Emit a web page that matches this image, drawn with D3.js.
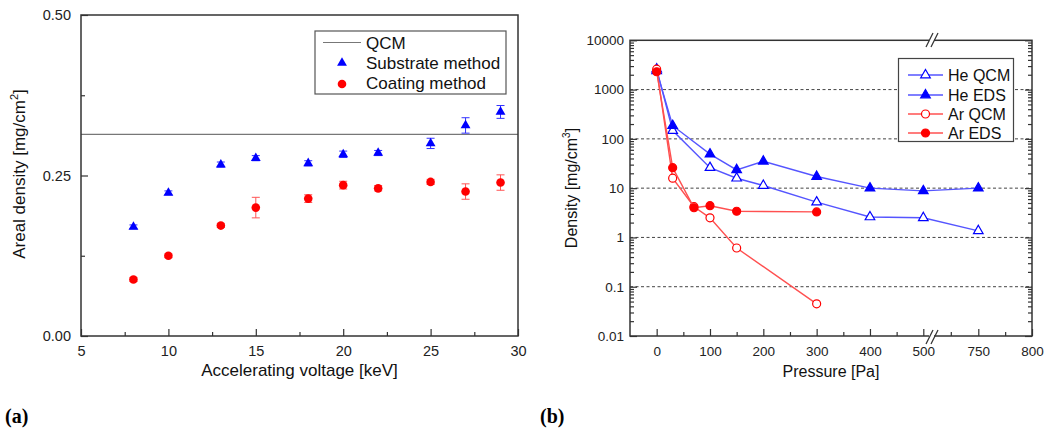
<!DOCTYPE html>
<html>
<head>
<meta charset="utf-8">
<script src="https://cdn.jsdelivr.net/npm/d3@7"></script>
<style>
  body { margin: 0; background: #fff; }
  svg { display: block; font-family: "Liberation Sans", Arial, sans-serif; }
</style>
</head>
<body>
<svg id="chart"></svg>
<script>
// ---- panel (a) data: areal density vs accelerating voltage
var voltage = [8, 10, 13, 15, 18, 20, 22, 25, 27, 29];
var substrate = [0.170, 0.223, 0.267, 0.277, 0.269, 0.283, 0.285, 0.300, 0.328, 0.349];
var substrateErr = [0.003, 0.003, 0.004, 0.004, 0.004, 0.005, 0.004, 0.008, 0.012, 0.010];
var coating = [0.088, 0.125, 0.172, 0.200, 0.214, 0.235, 0.230, 0.240, 0.225, 0.239];
var coatingErr = [0.003, 0.003, 0.003, 0.016, 0.006, 0.006, 0.004, 0.004, 0.012, 0.012];
var qcmLevel = 0.314;
var xTicksA = [5, 10, 15, 20, 25, 30];
var yTicksA = [0, 0.25, 0.5];

// ---- panel (b) data: density vs pressure
var heQcmP = [0, 30, 100, 150, 200, 300, 400, 500, 750];
var heQcm = [2600, 147, 26, 15.9, 11.3, 5.2, 2.6, 2.5, 1.36];
var heEdsP = [0, 30, 100, 150, 200, 300, 400, 500, 750];
var heEds = [2400, 185, 49, 23.5, 35, 17.2, 10, 8.8, 10];
var arQcmP = [0, 30, 70, 100, 150, 300];
var arQcm = [2600, 15.9, 4.2, 2.5, 0.61, 0.045];
var arEdsP = [0, 30, 70, 100, 150, 300];
var arEds = [2300, 26, 4.0, 4.4, 3.4, 3.3];
var xTicksB = [0, 100, 200, 300, 400, 500, 750, 800];
var xMinorB = [50, 150, 250, 350, 450, 625, 775];
var yTicksB = [0.01, 0.1, 1, 10, 100, 1000, 10000];
var gridB = [0.1, 1, 10, 100, 1000];

var W = 1045, H = 432;
var svg = d3.select("#chart").attr("width", W).attr("height", H);
svg.append("rect").attr("width", W).attr("height", H).attr("fill", "#fff");

var frameCol = "#333";
var blue = "#0000ff", red = "#ff0000";

function styleAxis(g, size) {
  g.select(".domain").remove();
  g.selectAll(".tick line").attr("stroke", frameCol).attr("stroke-width", 1.2);
  g.selectAll(".tick text").attr("fill", "#222").attr("font-size", size)
    .attr("font-family", "Liberation Sans, Arial, sans-serif");
}

// ================= panel (a) =================
var xa = d3.scaleLinear().domain([5, 30]).range([81, 518]);
var ya = d3.scaleLinear().domain([0, 0.5]).range([336, 15]);

// qcm reference line
svg.append("line")
  .attr("x1", xa(5)).attr("x2", xa(30))
  .attr("y1", ya(qcmLevel)).attr("y2", ya(qcmLevel))
  .attr("stroke", "#777").attr("stroke-width", 1.2);

var axA = svg.append("g").attr("transform", "translate(0,336)")
  .call(d3.axisBottom(xa).tickValues(xTicksA).tickSize(-7).tickPadding(10).tickFormat(d3.format("d")));
styleAxis(axA, "14.5px");
var axAm = svg.append("g").attr("transform", "translate(0,336)")
  .call(d3.axisBottom(xa).tickValues([7.5, 12.5, 17.5, 22.5, 27.5]).tickSize(-4).tickFormat(""));
styleAxis(axAm, "1px");

var ayA = svg.append("g").attr("transform", "translate(81,0)")
  .call(d3.axisLeft(ya).tickValues(yTicksA).tickSize(-7).tickPadding(10).tickFormat(d3.format(".2f")));
styleAxis(ayA, "14.5px");
var ayAm = svg.append("g").attr("transform", "translate(81,0)")
  .call(d3.axisLeft(ya).tickValues([0.125, 0.375]).tickSize(-4).tickFormat(""));
styleAxis(ayAm, "1px");

svg.append("rect").attr("x", 81).attr("y", 15).attr("width", 437).attr("height", 321)
  .attr("fill", "none").attr("stroke", frameCol).attr("stroke-width", 1.5);

// error bars
function errBars(xs, ys, es, color) {
  var g = svg.append("g").attr("stroke", color).attr("stroke-width", 1);
  xs.forEach(function(v, i) {
    var x = xa(v), y1 = ya(ys[i] - es[i]), y2 = ya(ys[i] + es[i]);
    g.append("line").attr("x1", x).attr("x2", x).attr("y1", y1).attr("y2", y2);
    g.append("line").attr("x1", x - 4).attr("x2", x + 4).attr("y1", y1).attr("y2", y1);
    g.append("line").attr("x1", x - 4).attr("x2", x + 4).attr("y1", y2).attr("y2", y2);
  });
}
errBars(voltage, substrate, substrateErr, "#3333ff");
errBars(voltage, coating, coatingErr, "#ff5555");

var tri = d3.symbol().type(d3.symbolTriangle).size(42);
svg.append("g").selectAll("path").data(voltage).enter().append("path")
  .attr("d", tri)
  .attr("transform", function(d, i) { return "translate(" + xa(d) + "," + ya(substrate[i]) + ")"; })
  .attr("fill", blue);
svg.append("g").selectAll("circle").data(voltage).enter().append("circle")
  .attr("cx", function(d) { return xa(d); })
  .attr("cy", function(d, i) { return ya(coating[i]); })
  .attr("r", 4.3).attr("fill", red);

// legend (a)
var lgA = svg.append("g");
lgA.append("rect").attr("x", 315).attr("y", 31).attr("width", 191).attr("height", 63)
  .attr("fill", "#fff").attr("stroke", "#555").attr("stroke-width", 1.2);
lgA.append("line").attr("x1", 323).attr("x2", 361).attr("y1", 42.5).attr("y2", 42.5)
  .attr("stroke", "#777").attr("stroke-width", 1.2);
lgA.append("path").attr("d", tri).attr("transform", "translate(342,63)").attr("fill", blue);
lgA.append("circle").attr("cx", 342).attr("cy", 84).attr("r", 4.3).attr("fill", red);
[["QCM", 48.5], ["Substrate method", 68.5], ["Coating method", 89]].forEach(function(t) {
  lgA.append("text").attr("x", 366).attr("y", t[1]).attr("font-size", "17px")
    .attr("fill", "#111").text(t[0]);
});

svg.append("text").attr("x", 299.5).attr("y", 376).attr("text-anchor", "middle")
  .attr("font-size", "17px").attr("fill", "#111").text("Accelerating voltage [keV]");
var ytA = svg.append("text").attr("transform", "translate(25,174) rotate(-90)")
  .attr("text-anchor", "middle").attr("font-size", "17px").attr("fill", "#111");
ytA.append("tspan").text("Areal density [mg/cm");
ytA.append("tspan").attr("font-size", "11px").attr("dy", "-7").text("2");
ytA.append("tspan").attr("dy", "7").text("]");

svg.append("text").attr("x", 5).attr("y", 423)
  .attr("font-family", "Liberation Serif, Times New Roman, serif")
  .attr("font-weight", "bold").attr("font-size", "20px").attr("fill", "#000").text("(a)");

// ================= panel (b) =================
var xb = d3.scaleLinear().domain([-50, 500, 750, 800]).range([630, 923.3, 978.3, 1032]);
var yb = d3.scaleLog().domain([0.01, 10000]).range([336, 40.3]);

// dashed grid
svg.append("g").selectAll("line").data(gridB).enter().append("line")
  .attr("x1", 630).attr("x2", 1032)
  .attr("y1", function(d) { return yb(d); }).attr("y2", function(d) { return yb(d); })
  .attr("stroke", "#444").attr("stroke-width", 1).attr("stroke-dasharray", "3,2.5");

var axB = svg.append("g").attr("transform", "translate(0,336)")
  .call(d3.axisBottom(xb).tickValues(xTicksB).tickSize(-7).tickPadding(10).tickFormat(d3.format("d")));
styleAxis(axB, "13.5px");
var axBm = svg.append("g").attr("transform", "translate(0,336)")
  .call(d3.axisBottom(xb).tickValues(xMinorB).tickSize(-4).tickFormat(""));
styleAxis(axBm, "1px");

var yMinorB = [];
yTicksB.slice(0, -1).forEach(function(p) {
  for (var k = 2; k <= 9; k++) yMinorB.push(p * k);
});
function fmtLog(d) { return d >= 1 ? d3.format("d")(d) : String(d); }
var ayB = svg.append("g").attr("transform", "translate(630,0)")
  .call(d3.axisLeft(yb).tickValues(yTicksB).tickSize(-7).tickPadding(6).tickFormat(fmtLog));
styleAxis(ayB, "13.5px");
var ayBm = svg.append("g").attr("transform", "translate(630,0)")
  .call(d3.axisLeft(yb).tickValues(yMinorB).tickSize(-4).tickFormat(""));
styleAxis(ayBm, "1px");
var ayBr = svg.append("g").attr("transform", "translate(1032,0)")
  .call(d3.axisRight(yb).tickValues(yTicksB).tickSize(-7).tickFormat(""));
styleAxis(ayBr, "1px");
var ayBrm = svg.append("g").attr("transform", "translate(1032,0)")
  .call(d3.axisRight(yb).tickValues(yMinorB).tickSize(-4).tickFormat(""));
styleAxis(ayBrm, "1px");

svg.append("rect").attr("x", 630).attr("y", 40.3).attr("width", 402).attr("height", 295.7)
  .attr("fill", "none").attr("stroke", frameCol).attr("stroke-width", 1.5);

// axis break marks
[[40.3, 33, 47], [336, 330, 344]].forEach(function(b) {
  svg.append("rect").attr("x", 929).attr("y", b[0] - 2).attr("width", 5).attr("height", 4).attr("fill", "#fff");
  [0, 5].forEach(function(o) {
    svg.append("line").attr("x1", 926 + o).attr("y1", b[2]).attr("x2", 933 + o).attr("y2", b[1])
      .attr("stroke", frameCol).attr("stroke-width", 1.2);
  });
});

var series = [
  { name: "He QCM", p: heQcmP, v: heQcm, color: blue, line: "#5555ff", shape: "tri", filled: false },
  { name: "He EDS", p: heEdsP, v: heEds, color: blue, line: "#5555ff", shape: "tri", filled: true },
  { name: "Ar QCM", p: arQcmP, v: arQcm, color: red, line: "#ff5050", shape: "circ", filled: false },
  { name: "Ar EDS", p: arEdsP, v: arEds, color: red, line: "#ff5050", shape: "circ", filled: true }
];

var triB = d3.symbol().type(d3.symbolTriangle).size(40);
function marker(g, s, x, y) {
  if (s.shape === "tri") {
    g.append("path").attr("d", triB).attr("transform", "translate(" + x + "," + y + ")")
      .attr("fill", s.filled ? s.color : "#fff").attr("stroke", s.color).attr("stroke-width", 1.2);
  } else {
    g.append("circle").attr("cx", x).attr("cy", y).attr("r", 4)
      .attr("fill", s.filled ? s.color : "#fff").attr("stroke", s.color).attr("stroke-width", 1.2);
  }
}

var line = d3.line().x(function(d) { return xb(d[0]); }).y(function(d) { return yb(d[1]); });
series.forEach(function(s) {
  var pts = s.p.map(function(p, i) { return [p, s.v[i]]; });
  var g = svg.append("g");
  g.append("path").datum(pts).attr("d", line)
    .attr("fill", "none").attr("stroke", s.line).attr("stroke-width", 1.4);
  pts.forEach(function(d) { marker(g, s, xb(d[0]), yb(d[1])); });
});

// legend (b)
var lgB = svg.append("g");
lgB.append("rect").attr("x", 898.5).attr("y", 58.5).attr("width", 115).attr("height", 83)
  .attr("fill", "#fff").attr("stroke", "#444").attr("stroke-width", 1.2);
var rowY = [75, 95, 114, 133];
series.forEach(function(s, i) {
  lgB.append("line").attr("x1", 908).attr("x2", 943).attr("y1", rowY[i]).attr("y2", rowY[i])
    .attr("stroke", s.line).attr("stroke-width", 1.4);
  marker(lgB, s, 925.5, rowY[i]);
  lgB.append("text").attr("x", 948).attr("y", rowY[i] + 6).attr("font-size", "16px")
    .attr("fill", "#111").text(s.name);
});

svg.append("text").attr("x", 831).attr("y", 377).attr("text-anchor", "middle")
  .attr("font-size", "16px").attr("fill", "#111").text("Pressure [Pa]");
var ytB = svg.append("text").attr("transform", "translate(577,188) rotate(-90)")
  .attr("text-anchor", "middle").attr("font-size", "16px").attr("fill", "#111");
ytB.append("tspan").text("Density [mg/cm");
ytB.append("tspan").attr("font-size", "10px").attr("dy", "-7").text("3");
ytB.append("tspan").attr("dy", "7").text("]");

svg.append("text").attr("x", 540).attr("y", 423)
  .attr("font-family", "Liberation Serif, Times New Roman, serif")
  .attr("font-weight", "bold").attr("font-size", "20px").attr("fill", "#000").text("(b)");
</script>
</body>
</html>
